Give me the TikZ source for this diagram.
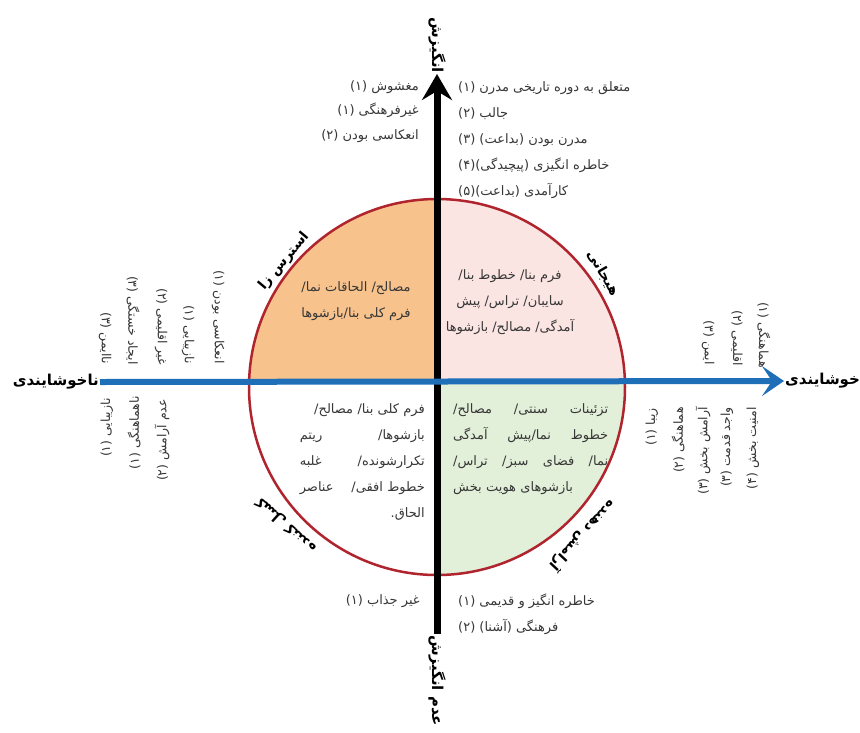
\documentclass[tikz,border=0pt]{standalone}
\usepackage{fontspec}
\newfontfamily\arabicfont[Script=Arabic]{DejaVu Sans}
\TeXXeTstate=1
\newcommand{\fatext}[1]{\beginR #1\endR}
\definecolor{stressfill}{RGB}{247,194,140}
\definecolor{excitefill}{RGB}{251,229,227}
\definecolor{calmfill}{RGB}{226,239,217}
\definecolor{rimred}{RGB}{176,36,46}
\definecolor{axisblue}{RGB}{31,110,184}
\definecolor{txtgray}{RGB}{55,55,55}
\usetikzlibrary{arrows.meta,positioning}

\begin{document}
\begin{tikzpicture}
    [x=1pt,y=-1pt,
      txt/.style={font=\fontsize{13}{26}\selectfont\arabicfont,text=txtgray,inner sep=0pt},
      axlbl/.style={font=\fontsize{15}{18}\selectfont\arabicfont\bfseries,inner sep=1pt},
      quad/.style={font=\fontsize{14}{16}\selectfont\arabicfont\bfseries,inner sep=0pt},
      upcol/.style={txt,font=\fontsize{12.5}{14}\selectfont\arabicfont,rotate=-90,anchor=east},
      dncol/.style={txt,font=\fontsize{12.5}{14}\selectfont\arabicfont,rotate=90,anchor=east}]

  \useasboundingbox [fill=white] (0,0) rectangle (860,732);

  \coordinate (O) at (437,382);
  \coordinate (C) at (437,387);

  % quarters of the circle
  \begin{scope}
    \clip (C) circle (188);
    \fill [stressfill] (O) rectangle (200,150);
    \fill [excitefill] (O) rectangle (680,150);
    \fill [calmfill] (O) rectangle (680,620);
  \end{scope}
  \draw [rimred,line width=2.5pt] (C) circle (188);

  % axis labels
  \node [axlbl,rotate=-90,anchor=east] (motiv) at (437,74) {\fatext{انگیزش}};
  \node [axlbl,rotate=-90,anchor=west] (nomotiv) at (437,634) {\fatext{عدم انگیزش}};
  \node [axlbl,anchor=east] (unpleasant) at (100,382) {\fatext{ناخوشایندی}};
  \node [axlbl,anchor=west] (pleasant) at (784,381) {\fatext{خوشایندی}};

  \draw [line width=7pt,-{Stealth[length=26pt,width=30pt,inset=9pt]}] (nomotiv.west) -- (motiv.east);
  \draw [axisblue,line width=6pt,-{Stealth[length=22pt,width=30pt,inset=10pt]}] (unpleasant.east) -- (pleasant.west);

  % lists above and below
  \node [txt,font=\fontsize{13}{24.5}\selectfont\arabicfont,align=right,anchor=north east] (negtop) at (419,80) {
    \beginR مغشوش (۱)\endR\\
    \beginR غیرفرهنگی (۱)\endR\\
    \beginR انعکاسی بودن (۲)\endR};
  \node [txt,align=left,anchor=north west] (postop) at (458,81) {
    \beginR متعلق به دوره تاریخی مدرن (۱)\endR\\
    \beginR جالب (۲)\endR\\
    \beginR مدرن بودن (بداعت) (۳)\endR\\
    \beginR خاطره انگیزی (پیچیدگی)(۴)\endR\\
    \beginR کارآمدی (بداعت)(۵)\endR};
  \node [txt,align=right,anchor=north east] (negbot) at (420,594) {\beginR غیر جذاب (۱)\endR};
  \node [txt,align=left,anchor=north west] (posbot) at (458,594) {
    \beginR خاطره انگیز و قدیمی (۱)\endR\\
    \beginR فرهنگی (آشنا) (۲)\endR};

  % quarter texts
  \node [txt,align=center] (tltext) at (356,301) {
    \beginR مصالح/ الحاقات نما/\endR\\
    \beginR فرم کلی بنا/بازشوها\endR};
  \node [txt,align=center] (trtext) at (510,302) {
    \beginR فرم بنا/ خطوط بنا/\endR\\
    \beginR سایبان/ تراس/ پیش\endR\\
    \beginR آمدگی/ مصالح/ بازشوها\endR};
  \node [txt,align=right,text width=125pt,anchor=north east] (bltext) at (425,403) {
    \beginR فرم کلی بنا/ مصالح/\endR\\
    \beginR بازشوها/\hfill ریتم\endR\\
    \beginR تکرارشونده/\hfill غلبه\endR\\
    \beginR خطوط افقی/\hfill عناصر\endR\\
    \beginR الحاق.\endR};
  \node [txt,align=left,text width=155pt,anchor=north west] (brtext) at (453,403) {
    \beginR تزئینات\hfill سنتی/\hfill مصالح/\endR\\
    \beginR خطوط\hfill نما/پیش\hfill آمدگی\endR\\
    \beginR نما/\hfill فضای\hfill سبز/\hfill تراس/\endR\\
    \beginR بازشوهای هویت بخش\endR};

  % quarter names
  \node [quad,rotate=50] (stress) at (284,261) {\beginR استرس زا\endR};
  \node [quad,rotate=-60] (excite) at (603,273) {\beginR هیجانی\endR};
  \node [quad,rotate=138] (boring) at (286,525) {\beginR کسل کننده\endR};
  \node [quad,rotate=-133] (calming) at (583,536) {\beginR آرامش دهنده\endR};

  % side columns, left
  \node [upcol] (nl1) at (218,364) {\beginR انعکاسی بودن (۱)\endR};
  \node [upcol] (nl2) at (188,364) {\beginR نازیبایی (۱)\endR};
  \node [upcol] (nl3) at (161,365) {\beginR غیر اقلیمی (۲)\endR};
  \node [upcol] (nl4) at (133,365) {\beginR ایجاد خستگی (۳)\endR};
  \node [upcol] (nl5) at (105,364) {\beginR ناایمن (۳)\endR};
  \node [dncol] (nb1) at (107,398) {\beginR نازیبایی (۱)\endR};
  \node [dncol] (nb2) at (134,396) {\beginR ناهماهنگی (۱)\endR};
  \node [dncol] (nb3) at (162,399) {\beginR عدم آرامش (۲)\endR};

  % side columns, right
  \node [upcol] (pl1) at (764,368) {\beginR هماهنگی (۱)\endR};
  \node [upcol] (pl2) at (737,366) {\beginR اقلیمی (۲)\endR};
  \node [upcol] (pl3) at (708,365) {\beginR ایمن (۳)\endR};
  \node [dncol] (pb1) at (652,408) {\beginR زیبا (۱)\endR};
  \node [dncol] (pb2) at (678,407) {\beginR هماهنگی (۲)\endR};
  \node [dncol] (pb3) at (703,407) {\beginR آرامش بخش (۳)\endR};
  \node [dncol] (pb4) at (727,407) {\beginR واجد قدمت (۳)\endR};
  \node [dncol] (pb5) at (753,407) {\beginR امنیت بخش (۴)\endR};
\end{tikzpicture}
\end{document}
